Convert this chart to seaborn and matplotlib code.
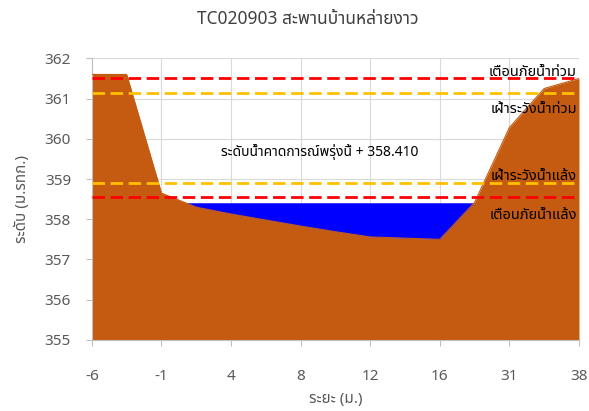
import numpy as np
import pandas as pd
import matplotlib
matplotlib.use("Agg")
import matplotlib.pyplot as plt
import seaborn as sns
from matplotlib import font_manager
from fontTools.ttLib import TTFont


# cross-section data (categories on the x axis, labels every second point)
distance = [-6, -3, -1, 2, 4, 6, 8, 10, 12, 14, 16, 24, 31, 35, 38]
ground = [361.6, 361.6, 358.65, 358.3, 358.13, 357.98, 357.83, 357.69,
          357.56, 357.53, 357.5, 358.42, 360.28, 361.25, 361.5]
water_level = 358.41

level_names = ["เตือนภัยน้ำท่วม", "เฝ้าระวังน้ำท่วม", "เฝ้าระวังน้ำแล้ง", "เตือนภัยน้ำแล้ง"]
level_values = [361.5, 361.15, 358.9, 358.55]
level_colors = ["#FF0000", "#FFC000", "#FFC000", "#FF0000"]
label_offsets = [0.14, -0.43, 0.16, -0.45]

title = "TC020903 สะพานบ้านหล่ายงาว"
forecast_text = "ระดับน้ำคาดการณ์พรุ่งนี้ + 358.410"


def find_thai_font():
    found = []
    for f in font_manager.fontManager.ttflist:
        try:
            cmap = TTFont(f.fname, fontNumber=0, lazy=True).getBestCmap()
        except Exception:
            continue
        if cmap and 0x0E23 in cmap and 0x0E49 in cmap:
            found.append(f.name)
    for pref in ["Tahoma", "Noto Sans Thai", "Loma", "Garuda", "Sarabun", "Kinnari"]:
        if pref in found:
            return pref
    return found[0] if found else "DejaVu Sans"


sns.set_style("white")
thai = find_thai_font()
plt.rcParams["font.family"] = [thai, "DejaVu Sans"]

df = pd.DataFrame({"pos": np.arange(len(distance)), "ground": ground})
pos = df["pos"].to_numpy()
g = df["ground"].to_numpy()

fig = plt.figure(figsize=(5.89, 4.11), dpi=100)
ax = fig.add_axes([0.156, 0.173, 0.827, 0.685])

ax.fill_between(pos, 355, g, color="#C55A11", lw=0, zorder=2)
ax.fill_between(pos, g, water_level, where=g < water_level,
                interpolate=True, color="#0000FF", lw=0, zorder=2)
sns.lineplot(data=df, x="pos", y="ground", ax=ax, color="#C55A11", lw=0.8, zorder=3)

for name, val, col, off in zip(level_names, level_values, level_colors, label_offsets):
    ax.axhline(val, color=col, lw=2.0, dashes=(4.5, 2), zorder=4)
    ax.text(pos[-1] - 0.06, val + off, name, ha="right", va="center",
            fontsize=10.5, color="#000000", zorder=5)

ax.text(6.55, 359.67, forecast_text, ha="center", va="center",
        fontsize=10, color="#000000", zorder=5)

ax.set_xlim(pos[0], pos[-1])
ax.set_ylim(355, 362)
ax.set_xticks(pos[::2])
ax.set_xticklabels([str(d) for d in distance[::2]])
ax.set_yticks(np.arange(355, 363))
ax.grid(True, color="#D9D9D9", lw=0.8, zorder=0)
ax.set_axisbelow(True)
for s in ["top", "right"]:
    ax.spines[s].set_visible(False)
for s in ["left", "bottom"]:
    ax.spines[s].set_color("#BFBFBF")
ax.tick_params(axis="both", colors="#595959", labelsize=11, length=4,
               direction="out", bottom=True, left=True, color="#BFBFBF")
ax.tick_params(axis="x", pad=17)
ax.tick_params(axis="y", pad=11)

ax.set_xlabel("ระยะ (ม.)", fontsize=11, color="#595959", labelpad=6)
ax.set_ylabel("ระดับ (ม.รทก.)", fontsize=11, color="#595959")
ax.yaxis.set_label_coords(-0.128, 0.5)
fig.text(0.523, 0.953, title, ha="center", va="center", fontsize=12.5, color="#404040")

fig.savefig("out.png", dpi=100)
